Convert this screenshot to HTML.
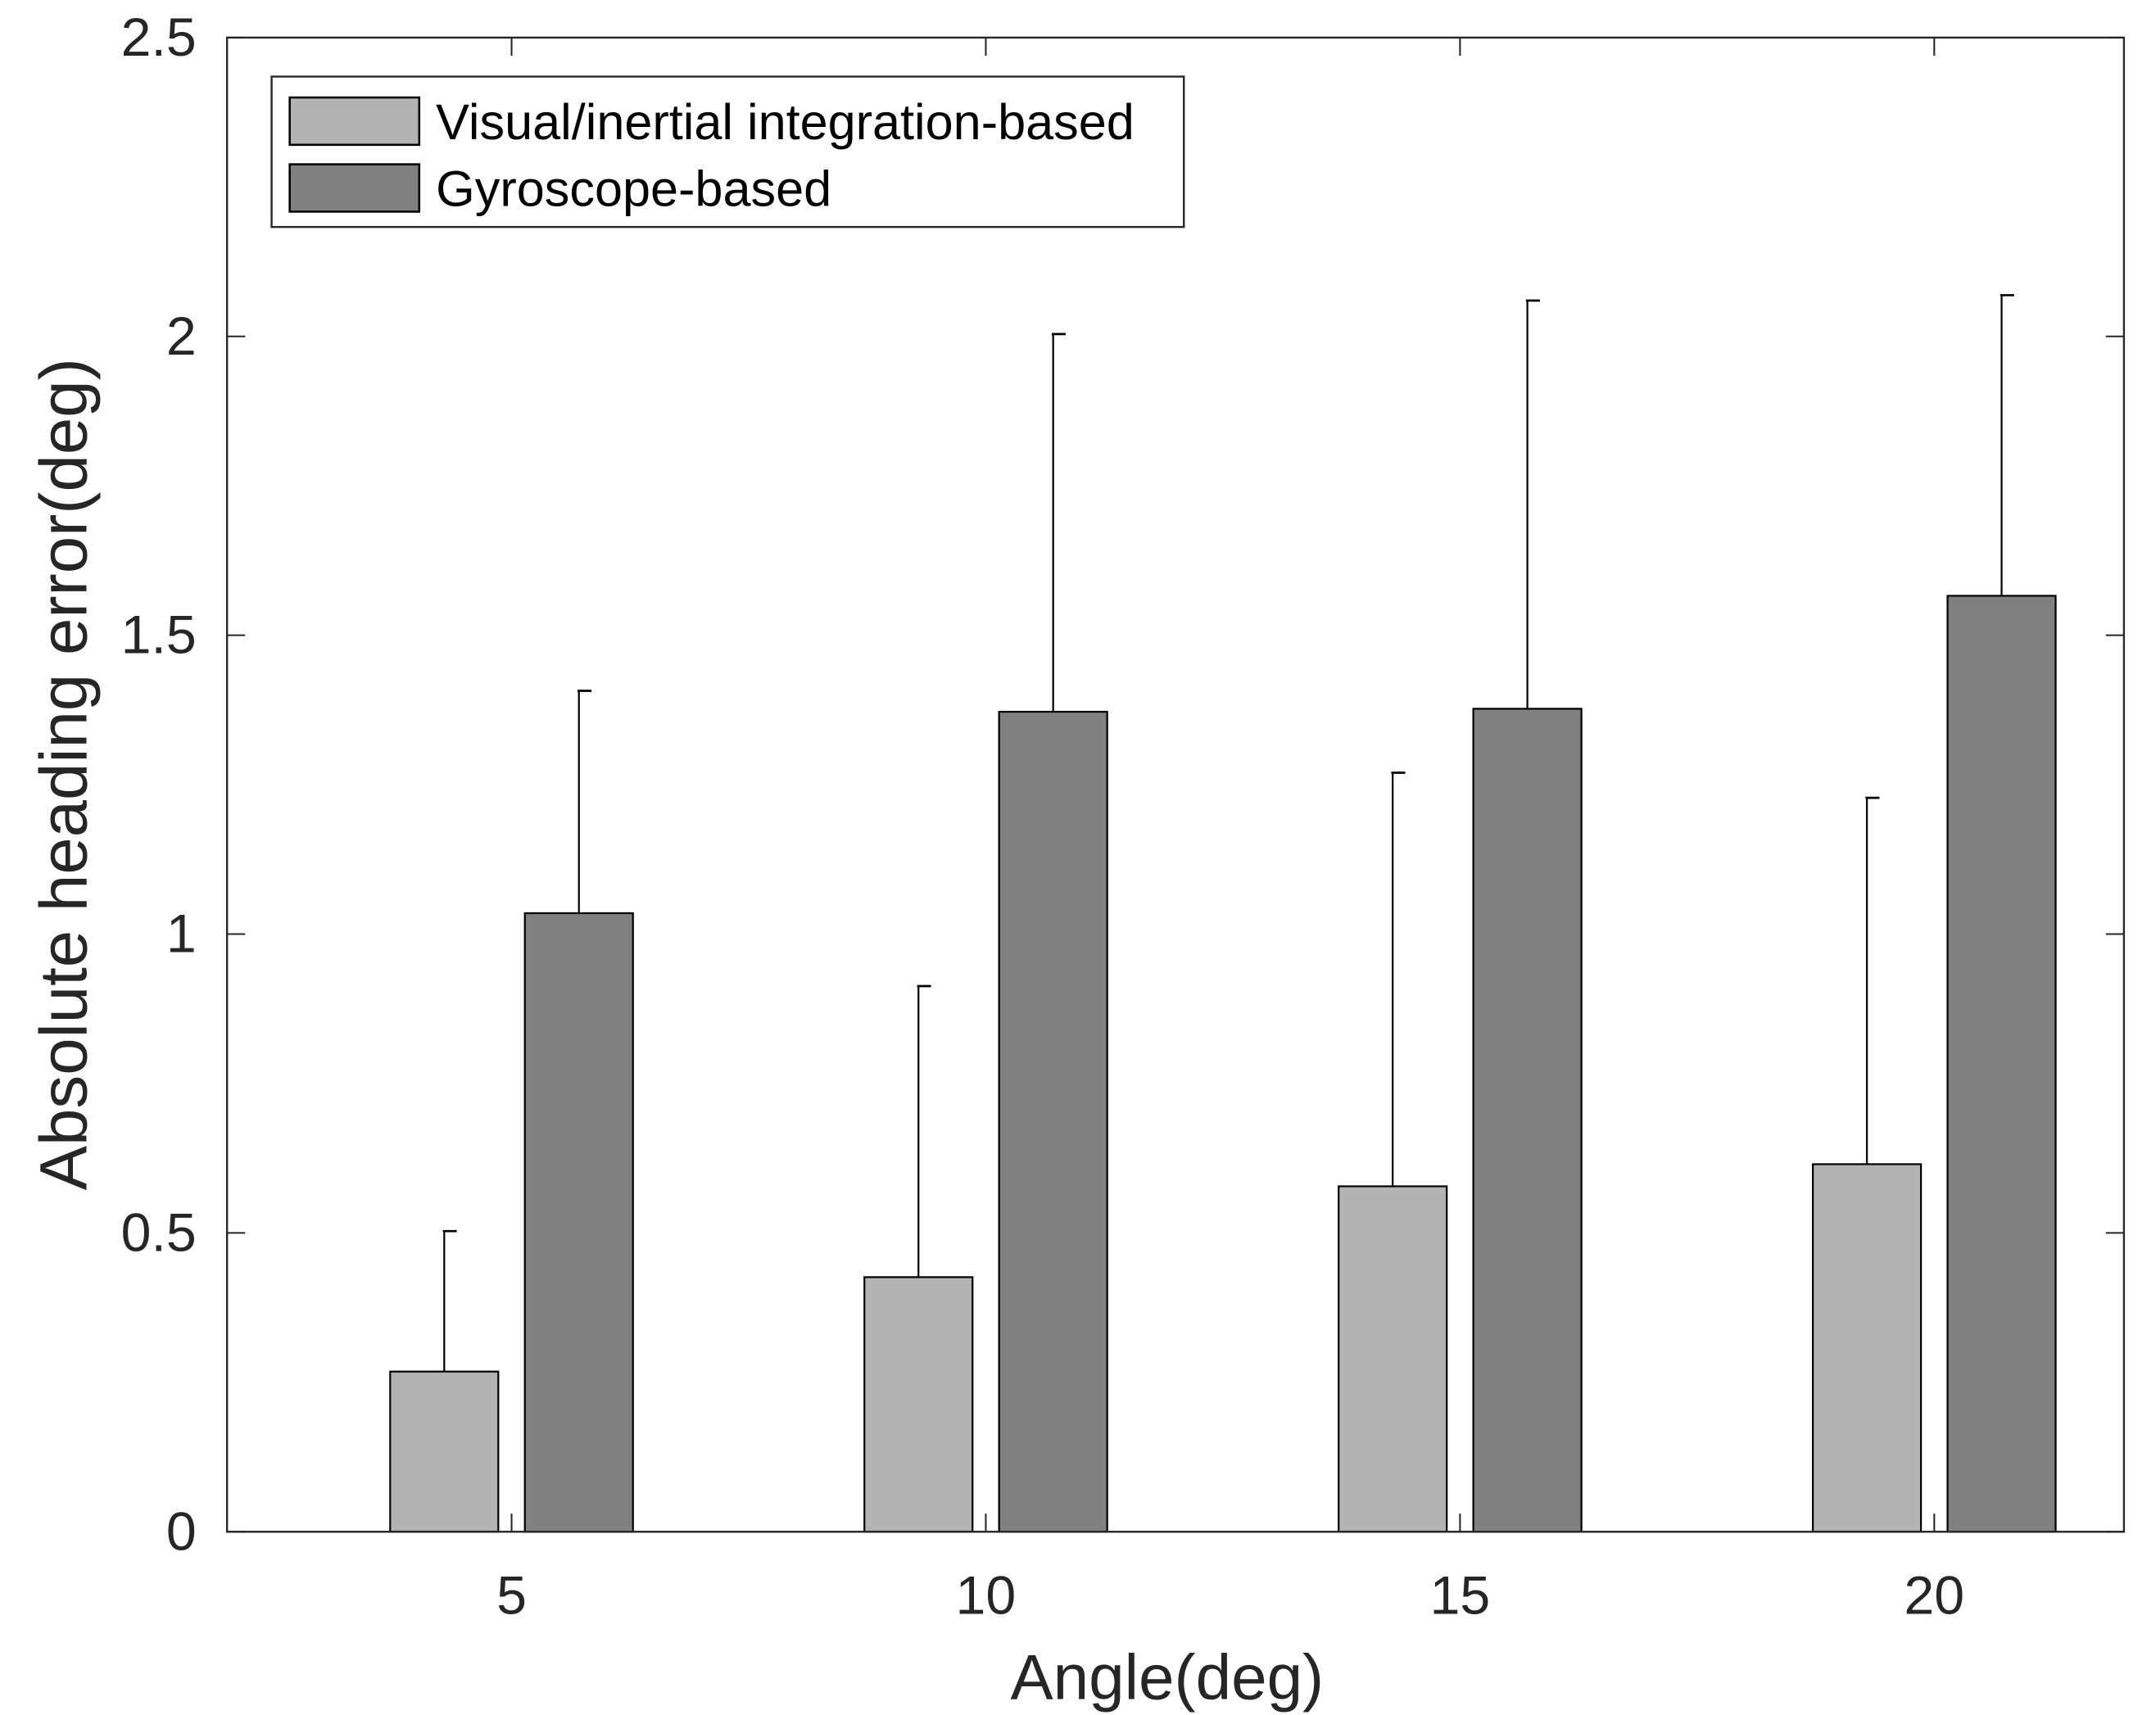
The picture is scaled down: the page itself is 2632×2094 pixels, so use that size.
<!DOCTYPE html>
<html><head><meta charset="utf-8"><style>
html,body{margin:0;padding:0;background:#fff;}
svg{display:block;font-family:"Liberation Sans",Arial,sans-serif;}
</style></head><body>
<svg id="chart" width="2632" height="2094" viewBox="0 0 1548 1231.6" xmlns="http://www.w3.org/2000/svg">
<rect x="0" y="0" width="1548" height="1231.6" fill="#fff"/>
<g id="plot"></g>
</svg>
<script>
const categories = [5, 10, 15, 20];
const visualValues = [0.268, 0.426, 0.578, 0.615];
const gyroValues = [1.035, 1.372, 1.377, 1.566];
const visualErrTop = [0.503, 0.913, 1.270, 1.228];
const gyroErrTop = [1.407, 2.004, 2.060, 2.069];
const yTicks = [0, 0.5, 1, 1.5, 2, 2.5];
const yTickLabels = ["0", "0.5", "1", "1.5", "2", "2.5"];
const seriesNames = ["Visual/inertial integration-based", "Gyroscope-based"];

const NS = "http://www.w3.org/2000/svg";
const L = 163, R = 1525, T = 27, B = 1100;
const xMin = 2, xMax = 22;
function xs(v){ return L + (v - xMin) / (xMax - xMin) * (R - L); }
function ys(v){ return B - v / 2.5 * (B - T); }
const g = document.getElementById('plot');
function el(tag, attrs, parent){
  const e = document.createElementNS(NS, tag);
  for (const k in attrs) e.setAttribute(k, attrs[k]);
  (parent || g).appendChild(e);
  return e;
}
const unit = xs(1) - xs(0);
const barW = 1.14 * unit;
const off = 0.71 * unit;

function drawSeries(vals, errs, dx, fill, name){
  vals.forEach((v, i) => {
    const cx = xs(categories[i]) + dx;
    const r = el('rect', {x: cx - barW/2, y: ys(v), width: barW, height: ys(0) - ys(v), fill: fill, stroke: '#000', 'stroke-width': 1.3});
    
    
    const ln = el('line', {x1: cx, x2: cx, y1: ys(v), y2: ys(errs[i]), stroke: '#000', 'stroke-width': 1.3});
    
    
    const cap = el('line', {x1: cx - 1, x2: cx + 9, y1: ys(errs[i]), y2: ys(errs[i]), stroke: '#000', 'stroke-width': 1.6});
    
    
  });
}
drawSeries(visualValues, visualErrTop, -off, '#b3b3b3', 'visual');
drawSeries(gyroValues, gyroErrTop, off, '#808080', 'gyro');

const box = el('rect', {x: L, y: T, width: R - L, height: B - T, fill: 'none', stroke: '#262626', 'stroke-width': 1.4});



yTicks.forEach((t, i) => {
  const y = ys(t);
  el('line', {x1: L, x2: L + 13, y1: y, y2: y, stroke: '#262626', 'stroke-width': 1.2});
  el('line', {x1: R, x2: R - 13, y1: y, y2: y, stroke: '#262626', 'stroke-width': 1.2});
  const tx = el('text', {x: 141, y: y + 13, 'text-anchor': 'end', 'font-size': 39, fill: '#262626'});
  tx.textContent = yTickLabels[i];
  
  
});
categories.forEach(c => {
  const x = xs(c);
  el('line', {x1: x, x2: x, y1: B, y2: B - 13, stroke: '#262626', 'stroke-width': 1.2});
  el('line', {x1: x, x2: x, y1: T, y2: T + 13, stroke: '#262626', 'stroke-width': 1.2});
  const tx = el('text', {x: x, y: 1159, 'text-anchor': 'middle', 'font-size': 39, fill: '#262626'});
  tx.textContent = String(c);
  
  
});
const xt = el('text', {x: 838, y: 1220, 'text-anchor': 'middle', 'font-size': 46, fill: '#262626'});
xt.textContent = 'Angle(deg)';


const yt = el('text', {x: 0, y: 0, 'text-anchor': 'middle', 'font-size': 48, fill: '#262626', transform: 'translate(62,556) rotate(-90)'});
yt.textContent = 'Absolute heading error(deg)';



const lg = el('g', {});


el('rect', {x: 195, y: 55, width: 655, height: 108, fill: '#fff', stroke: '#262626', 'stroke-width': 1.4}, lg);
const fills = ['#b3b3b3', '#808080'];
seriesNames.forEach((n, i) => {
  const y0 = 70 + i * 48;
  const sw = el('rect', {x: 208, y: y0, width: 93, height: 34, fill: fills[i], stroke: '#000', 'stroke-width': 1.5}, lg);
  
  
  const t = el('text', {x: 313, y: y0 + 30, 'font-size': 36, fill: '#000'}, lg);
  t.textContent = n;
  
  
});
</script>
</body></html>
